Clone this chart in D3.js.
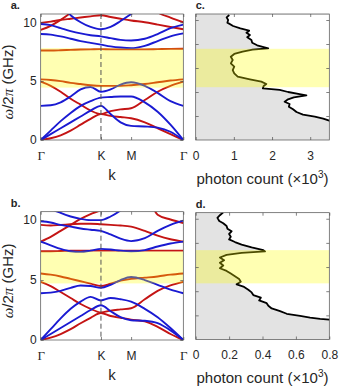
<!DOCTYPE html>
<html>
<head>
<meta charset="utf-8">
<script src="https://cdn.jsdelivr.net/npm/d3@7"></script>
<style>
  body { margin: 0; background: #fff; }
  svg { display: block; }
  text { font-family: "Liberation Sans", Arial, sans-serif; fill: #262626; }
</style>
</head>
<body>
<svg id="fig" width="339" height="390"></svg>
<script>
// k path Γ-K-M-Γ (normalised length)
const kTicks = [0, 0.4226, 0.634, 1]
const kLabels = ['Γ', 'K', 'M', 'Γ']
const kSamp = [0, 0.07, 0.14, 0.21, 0.28, 0.35, 0.4226, 0.49, 0.56, 0.634, 0.73, 0.82, 0.91, 1]

// band frequencies (GHz) at kSamp, panel a
const blueA = [
  [0, 0.5, 1.0, 1.5, 2.0, 2.5, 2.9, 2.2, 1.5, 1.2, 1.15, 1.05, 0.7, 0],
  [0, 0.8, 1.6, 2.3, 2.9, 3.3, 3.6, 3.65, 3.7, 3.7, 3.2, 2.4, 1.3, 0],
  [2.9, 2.95, 3.2, 3.7, 4.3, 4.5, 4.1, 4.3, 4.7, 4.9, 4.6, 4.0, 3.3, 2.9],
  [9.0, 8.95, 8.8, 8.6, 8.4, 8.25, 8.1, 7.95, 7.85, 7.8, 8.0, 8.4, 8.8, 9.05],
  [9.85, 9.75, 9.5, 9.25, 9.05, 8.9, 8.8, 8.65, 8.5, 8.45, 8.6, 9.0, 9.5, 9.8],
  [12, 12, 11.5, 10.6, 10.0, 9.6, 9.4, 9.6, 10.1, 10.7, 11.5, 12, 12, 12]
]
const redA = [
  [0, 0.15, 0.4, 0.8, 1.3, 1.8, 2.2, 2.05, 1.95, 1.85, 1.5, 1.0, 0.5, 0],
  [4.95, 4.6, 4.1, 3.5, 3.0, 2.5, 2.2, 2.45, 2.6, 2.7, 3.4, 4.1, 4.6, 4.95],
  [5.15, 5.1, 5.0, 4.85, 4.75, 4.65, 4.6, 4.6, 4.6, 4.65, 4.75, 4.9, 5.05, 5.15],
  [7.6, 7.6, 7.62, 7.65, 7.68, 7.7, 7.72, 7.7, 7.7, 7.7, 7.7, 7.72, 7.74, 7.75],
  [9.35, 9.7, 10.2, 10.8, 11.5, 12, 12, 12, 12, 12, 12, 10.85, 10.4, 10.0],
  [9.95, 10.05, 10.2, 10.3, 10.4, 10.5, 10.6, 10.45, 10.3, 10.15, 10.0, 9.8, 9.6, 9.4]
]
// panel b
const blueB = [
  [0, 0.5, 1.0, 1.5, 2.0, 2.5, 2.9, 2.4, 1.9, 1.65, 1.6, 1.4, 0.8, 0],
  [0, 0.9, 1.8, 2.6, 3.2, 3.6, 3.3, 3.5, 3.4, 3.2, 2.6, 1.9, 1.0, 0],
  [3.9, 3.95, 4.1, 4.35, 4.55, 4.5, 4.35, 4.6, 5.0, 5.25, 5.0, 4.6, 4.2, 3.9],
  [8.2, 7.9, 7.6, 7.4, 7.35, 7.45, 7.6, 7.55, 7.45, 7.4, 7.5, 7.8, 8.05, 8.2],
  [9.9, 9.8, 9.6, 9.45, 9.3, 9.2, 9.1, 8.8, 8.45, 8.25, 8.5, 9.1, 9.6, 9.95],
  [12, 11.0, 10.6, 10.3, 10.1, 10.0, 10.0, 10.3, 10.8, 11.5, 12, 12, 12, 12]
]
const redB = [
  [0, 0.2, 0.5, 0.9, 1.4, 1.85, 2.25, 2.0, 1.85, 1.7, 1.55, 1.1, 0.5, 0],
  [4.85, 4.5, 4.0, 3.5, 3.0, 2.6, 2.3, 2.45, 2.55, 2.65, 3.4, 4.1, 4.55, 4.85],
  [5.55, 5.45, 5.3, 5.1, 4.9, 4.7, 4.5, 4.7, 4.95, 5.1, 5.2, 5.3, 5.45, 5.55],
  [7.4, 7.4, 7.42, 7.44, 7.45, 7.45, 7.45, 7.45, 7.45, 7.45, 7.45, 7.45, 7.45, 7.45],
  [8.2, 8.6, 9.1, 9.6, 10.1, 10.5, 10.85, 11.5, 12, 12, 12, 10.45, 10.05, 9.75],
  [9.6, 9.55, 9.6, 9.65, 9.7, 9.7, 9.65, 9.6, 9.55, 9.45, 9.1, 8.7, 8.4, 8.2]
]

// band gaps (GHz)
const gapA = [4.45, 7.8]
const gapB = [4.72, 7.38]

// photon counts (x10^3) vs frequency (GHz)
const freqC = [10.42, 10.22, 10.0, 9.78, 9.5, 9.3, 9.11, 8.94, 8.75, 8.56, 8.33, 8.11, 7.89, 7.64, 7.53, 7.36, 7.17, 6.94, 6.67, 6.39, 6.11, 5.83, 5.56, 5.28, 5.06, 4.86, 4.67, 4.5, 4.31, 4.17, 4.0, 3.83, 3.72, 3.56, 3.39, 3.19, 3.0, 2.78, 2.56, 2.33, 2.11, 1.94, 1.78, 1.61, 1.5]
const countC = [0.88, 0.81, 0.85, 0.83, 0.98, 1.17, 1.4, 1.33, 1.42, 1.35, 1.46, 1.48, 1.61, 1.9, 1.49, 1.23, 1.01, 0.92, 0.97, 0.92, 1.01, 0.97, 1.01, 1.1, 1.42, 1.72, 1.85, 1.78, 1.76, 2.2, 2.42, 2.72, 2.9, 2.57, 2.42, 2.33, 2.46, 2.44, 2.55, 2.64, 2.81, 3.12, 3.34, 3.5, 3.56]
const freqD = [10.54, 10.29, 10.07, 9.82, 9.63, 9.4, 9.18, 8.96, 8.74, 8.51, 8.29, 8.07, 7.85, 7.62, 7.4, 7.29, 7.18, 7.01, 6.79, 6.57, 6.35, 6.13, 5.9, 5.68, 5.46, 5.24, 5.01, 4.79, 4.57, 4.35, 4.12, 3.9, 3.68, 3.46, 3.24, 3.01, 2.79, 2.57, 2.35, 2.13, 1.96, 1.82, 1.71, 1.65, 1.63]
const countD = [0.165, 0.145, 0.13, 0.141, 0.165, 0.185, 0.19, 0.215, 0.2, 0.21, 0.2, 0.235, 0.275, 0.335, 0.405, 0.415, 0.275, 0.185, 0.145, 0.17, 0.145, 0.165, 0.145, 0.185, 0.21, 0.235, 0.26, 0.27, 0.245, 0.29, 0.315, 0.335, 0.345, 0.39, 0.38, 0.425, 0.435, 0.455, 0.505, 0.545, 0.625, 0.685, 0.745, 0.8, 0.82]

const freqTicksBand = [0, 5, 10]
const freqTicksCount = [2, 4, 6, 8, 10]
const countTicksC = [0, 1, 2, 3]
const countTicksD = [0, 0.2, 0.4, 0.6, 0.8]

const BLUE = '#1a1ad2'
const RED = '#c41414'
const AXIS = '#4d4d4d'
const tickFont = 12
const labelFont = 15

const svg = d3.select('#fig')

const box = (g, w, h) => {
  g.append('rect')
    .attr('width', w).attr('height', h)
    .attr('fill', 'none').attr('stroke', AXIS).attr('stroke-width', 0.7)
}

const styleAxis = (sel) => {
  sel.select('.domain').remove()
  sel.selectAll('line').attr('stroke', AXIS).attr('stroke-width', 0.7)
  sel.selectAll('text').attr('fill', '#262626').style('font-size', tickFont + 'px')
}

const bandPanel = ({ id, tag, left, top, w, h, yMax, blue, red, gap }) => {
  const x = d3.scaleLinear().domain([0, 1]).range([0, w])
  const y = d3.scaleLinear().domain([0, yMax]).range([h, 0])
  const g = svg.append('g').attr('transform', `translate(${left},${top})`)

  g.append('clipPath').attr('id', 'clip' + id)
    .append('rect').attr('width', w).attr('height', h)

  const plot = g.append('g').attr('clip-path', `url(#clip${id})`)
  const line = d3.line()
    .x((d, i) => x(kSamp[i]))
    .y((d) => y(d))
    .curve(d3.curveMonotoneX)

  red.forEach((b) => {
    plot.append('path').attr('d', line(b)).attr('fill', 'none')
      .attr('stroke', RED).attr('stroke-width', 1.9)
  })
  blue.forEach((b) => {
    plot.append('path').attr('d', line(b)).attr('fill', 'none')
      .attr('stroke', BLUE).attr('stroke-width', 1.9)
  })

  plot.append('rect')
    .attr('x', 0).attr('width', w)
    .attr('y', y(gap[1])).attr('height', y(gap[0]) - y(gap[1]))
    .attr('fill', '#ffff00').attr('fill-opacity', 0.3)

  g.append('line')
    .attr('x1', x(kTicks[1])).attr('x2', x(kTicks[1]))
    .attr('y1', 0).attr('y2', h)
    .attr('stroke', '#555').attr('stroke-width', 1)
    .attr('stroke-dasharray', '5,3')

  const xb = g.append('g').attr('transform', `translate(0,${h})`)
    .call(d3.axisBottom(x).tickValues(kTicks).tickFormat((d, i) => kLabels[i])
      .tickSizeInner(-3).tickSizeOuter(0).tickPadding(11))
  styleAxis(xb)
  xb.selectAll('text').filter((d, i) => i === 0 || i === 3)
    .style('font-family', '"Liberation Serif", "DejaVu Serif", serif')
    .style('font-size', '13px')
  const xt = g.append('g')
    .call(d3.axisTop(x).tickValues(kTicks).tickFormat('').tickSizeInner(-3).tickSizeOuter(0))
  styleAxis(xt)

  const yl = g.append('g')
    .call(d3.axisLeft(y).tickValues(freqTicksBand).tickSizeInner(-3).tickSizeOuter(0).tickPadding(4))
  styleAxis(yl)
  const yr = g.append('g').attr('transform', `translate(${w},0)`)
    .call(d3.axisRight(y).tickValues(freqTicksBand).tickFormat('').tickSizeInner(-3).tickSizeOuter(0))
  styleAxis(yr)

  box(g, w, h)

  g.append('text').attr('x', w / 2).attr('y', h + 40)
    .attr('text-anchor', 'middle').style('font-size', labelFont + 'px').text('k')

  const yt = g.append('text')
    .attr('transform', `translate(${-28},${h / 2 + 5}) rotate(-90)`)
    .attr('text-anchor', 'middle').style('font-size', labelFont + 'px')
  yt.append('tspan').style('font-family', '"Liberation Serif", serif').style('font-style', 'italic').text('ω')
  yt.append('tspan').text('/2')
  yt.append('tspan').style('font-family', '"Liberation Serif", serif').style('font-style', 'italic').text('π')
  yt.append('tspan').text(' (GHz)')

  g.append('text').attr('x', -30).attr('y', -5)
    .style('font-size', '11px').style('font-weight', 'bold').text(tag)
}

const countPanel = ({ id, tag, left, top, w, h, xMax, yMax, freq, count, ticks, gap }) => {
  const x = d3.scaleLinear().domain([0, xMax]).range([0, w])
  const y = d3.scaleLinear().domain([0, yMax]).range([h, 0])
  const g = svg.append('g').attr('transform', `translate(${left},${top})`)

  g.append('clipPath').attr('id', 'clip' + id)
    .append('rect').attr('width', w).attr('height', h)
  const plot = g.append('g').attr('clip-path', `url(#clip${id})`)

  const pts = freq.map((f, i) => ({ f, c: count[i] }))

  plot.append('rect').attr('width', w).attr('height', h).attr('fill', '#e3e3e3')
  plot.append('path')
    .datum(pts)
    .attr('d', d3.area().y((d) => y(d.f)).x0((d) => x(d.c)).x1(w))
    .attr('fill', '#fff')
  plot.append('path')
    .datum(pts)
    .attr('d', d3.line().y((d) => y(d.f)).x((d) => x(d.c)))
    .attr('fill', 'none').attr('stroke', '#000').attr('stroke-width', 1.8)
    .attr('stroke-linejoin', 'round')

  plot.append('rect')
    .attr('x', 0).attr('width', w)
    .attr('y', y(gap[1])).attr('height', y(gap[0]) - y(gap[1]))
    .attr('fill', '#ffff00').attr('fill-opacity', 0.3)

  const xb = g.append('g').attr('transform', `translate(0,${h})`)
    .call(d3.axisBottom(x).tickValues(ticks).tickFormat(d3.format('~g'))
      .tickSizeInner(-3).tickSizeOuter(0).tickPadding(11))
  styleAxis(xb)
  const xt = g.append('g')
    .call(d3.axisTop(x).tickValues(ticks).tickFormat('').tickSizeInner(-3).tickSizeOuter(0))
  styleAxis(xt)
  const yl = g.append('g')
    .call(d3.axisLeft(y).tickValues(freqTicksCount).tickFormat('').tickSizeInner(-3).tickSizeOuter(0))
  styleAxis(yl)
  const yr = g.append('g').attr('transform', `translate(${w},0)`)
    .call(d3.axisRight(y).tickValues(freqTicksCount).tickFormat('').tickSizeInner(-3).tickSizeOuter(0))
  styleAxis(yr)

  box(g, w, h)

  const xl = g.append('text').attr('x', w / 2).attr('y', h + 44)
    .attr('text-anchor', 'middle').style('font-size', labelFont + 'px')
  xl.append('tspan').text('photon count (×10')
  xl.append('tspan').attr('dy', -6).style('font-size', '10px').text('3')
  xl.append('tspan').attr('dy', 6).text(')')

  g.append('text').attr('x', 0).attr('y', -5)
    .style('font-size', '11px').style('font-weight', 'bold').text(tag)
}

bandPanel({ id: 'a', tag: 'a.', left: 40.7, top: 14, w: 142.6, h: 126, yMax: 10.7, blue: blueA, red: redA, gap: gapA })
bandPanel({ id: 'b', tag: 'b.', left: 40.7, top: 211.7, w: 142.6, h: 128.3, yMax: 10.7, blue: blueB, red: redB, gap: gapB })
countPanel({ id: 'c', tag: 'c.', left: 195.7, top: 14, w: 133.6, h: 126, xMax: 3.5, yMax: 10.5, freq: freqC, count: countC, ticks: countTicksC, gap: [4.4, 7.6] })
countPanel({ id: 'd', tag: 'd.', left: 195.7, top: 212.7, w: 133.6, h: 126.8, xMax: 0.8, yMax: 10.5, freq: freqD, count: countD, ticks: countTicksD, gap: [4.65, 7.4] })
</script>
</body>
</html>
